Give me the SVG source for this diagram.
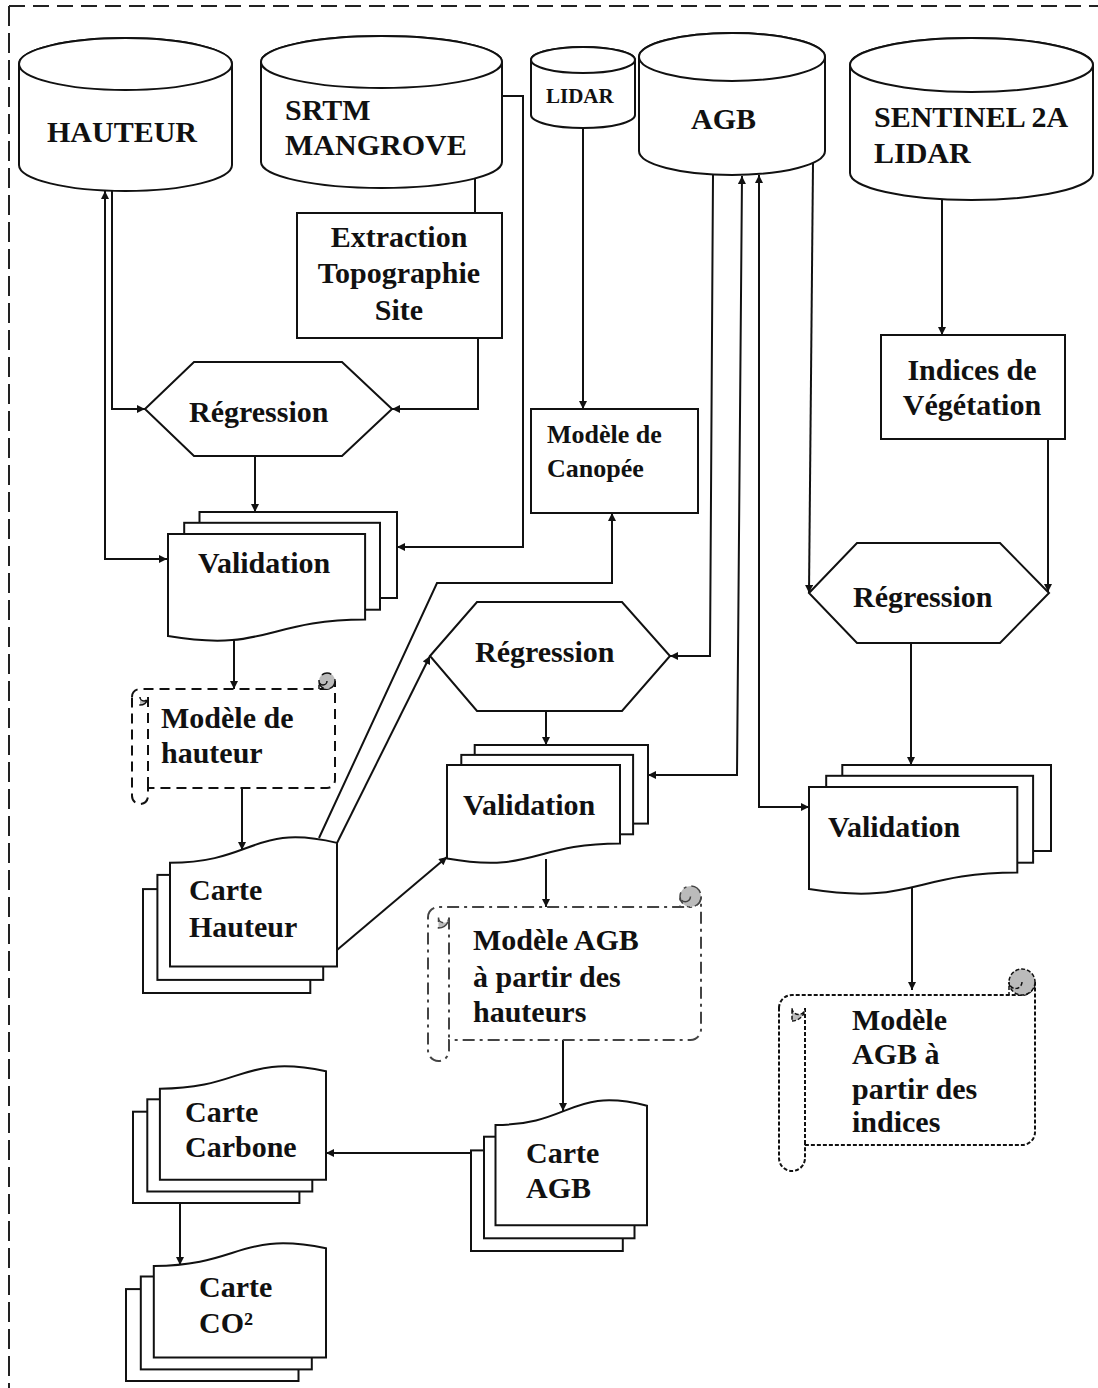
<svg xmlns="http://www.w3.org/2000/svg" width="1098" height="1388" viewBox="0 0 1098 1388">
<defs>
<style>
.s{fill:#fff;stroke:#111;stroke-width:2}
.t{font-family:"Liberation Serif","Times New Roman",serif;font-weight:bold;font-size:30px;fill:#111}
.c{fill:none;stroke:#111;stroke-width:2}
.curl{fill:#bbb;stroke:#111;stroke-width:1.5}
</style>
<marker id="arr" viewBox="0 0 10 10" refX="10" refY="5" markerWidth="10" markerHeight="8" markerUnits="userSpaceOnUse" orient="auto-start-reverse">
<path d="M0,0 L10,5 L0,10 Z" fill="#111"/>
</marker>
</defs>
<rect width="1098" height="1388" fill="#fff"/>
<g id="border">
<path d="M9,6 L1098,6" fill="none" stroke="#222" stroke-width="2" stroke-dasharray="16 8"/>
<path d="M9,6 L9,1388" fill="none" stroke="#222" stroke-width="2" stroke-dasharray="20 7"/>
</g>

<g id="connectors" class="c">
<path d="M105,191 L105,559 L167,559" marker-start="url(#arr)" marker-end="url(#arr)"/>
<path d="M112,191 L112,409 L145,409" marker-end="url(#arr)"/>
<path d="M475,178 L475,213"/>
<path d="M478,338 L478,409 L392,409" marker-end="url(#arr)"/>
<path d="M502,96 L523,96 L523,547 L397,547" marker-end="url(#arr)"/>
<path d="M255,456 L255,512" marker-end="url(#arr)"/>
<path d="M234,640 L234,689" marker-end="url(#arr)"/>
<path d="M242,788 L242,850" marker-end="url(#arr)"/>
<path d="M583,128 L583,409" marker-end="url(#arr)"/>
<path d="M319,838 L437,583 L612,583 L612,513" marker-end="url(#arr)"/>
<path d="M337,843 L430,656" marker-end="url(#arr)"/>
<path d="M337,950 L447,857" marker-end="url(#arr)"/>
<path d="M713,175 L710,656 L670,656" marker-end="url(#arr)"/>
<path d="M742,176 L737,775 L648,775" marker-start="url(#arr)" marker-end="url(#arr)"/>
<path d="M759,175 L759,807 L809,807" marker-start="url(#arr)" marker-end="url(#arr)"/>
<path d="M813,163 L809,593" marker-end="url(#arr)"/>
<path d="M942,199 L942,335" marker-end="url(#arr)"/>
<path d="M1048,439 L1048,592" marker-end="url(#arr)"/>
<path d="M546,711 L546,745" marker-end="url(#arr)"/>
<path d="M911,643 L911,765" marker-end="url(#arr)"/>
<path d="M546,859 L546,907" marker-end="url(#arr)"/>
<path d="M912,887 L912,990" marker-end="url(#arr)"/>
<path d="M563,1040 L563,1111" marker-end="url(#arr)"/>
<path d="M471,1153 L326,1153" marker-end="url(#arr)"/>
<path d="M180,1203 L180,1265" marker-end="url(#arr)"/>
</g>

<g id="hauteur-db">
<path class="s" d="M19,64 L19,165 A106.5,26 0 0 0 232,165 L232,64 A106.5,26 0 0 0 19,64 Z"/>
<ellipse class="s" cx="125.5" cy="64" rx="106.5" ry="26"/>
<text class="t" x="47" y="142">HAUTEUR</text>
</g>
<g id="srtm-db">
<path class="s" d="M261,62 L261,162 A120.5,26 0 0 0 502,162 L502,62 A120.5,26 0 0 0 261,62 Z"/>
<ellipse class="s" cx="381.5" cy="62" rx="120.5" ry="26"/>
<text class="t" x="285" y="120">SRTM</text>
<text class="t" x="285" y="155">MANGROVE</text>
</g>
<g id="lidar-db">
<path class="s" d="M531,60 L531,115 A52,13 0 0 0 635,115 L635,60 A52,13 0 0 0 531,60 Z"/>
<ellipse class="s" cx="583" cy="60" rx="52" ry="13"/>
<text class="t" x="546" y="103" style="font-size:21px">LIDAR</text>
</g>
<g id="agb-db">
<path class="s" d="M639,57 L639,151 A93,24 0 0 0 825,151 L825,57 A93,24 0 0 0 639,57 Z"/>
<ellipse class="s" cx="732" cy="57" rx="93" ry="24"/>
<text class="t" x="691" y="129">AGB</text>
</g>
<g id="sentinel-db">
<path class="s" d="M850,65 L850,173 A121.5,27 0 0 0 1093,173 L1093,65 A121.5,27 0 0 0 850,65 Z"/>
<ellipse class="s" cx="971.5" cy="65" rx="121.5" ry="27"/>
<text class="t" x="874" y="127">SENTINEL 2A</text>
<text class="t" x="874" y="163">LIDAR</text>
</g>

<g id="extraction">
<rect class="s" x="297" y="213" width="205" height="125"/>
<text class="t" x="399" y="247" text-anchor="middle">Extraction</text>
<text class="t" x="399" y="283" text-anchor="middle">Topographie</text>
<text class="t" x="399" y="320" text-anchor="middle">Site</text>
</g>
<g id="canopee">
<rect class="s" x="531" y="409" width="167" height="104"/>
<text class="t" x="547" y="443" style="font-size:26px">Modèle de</text>
<text class="t" x="547" y="477" style="font-size:26px">Canopée</text>
</g>
<g id="indices">
<rect class="s" x="881" y="335" width="184" height="104"/>
<text class="t" x="972" y="380" text-anchor="middle">Indices de</text>
<text class="t" x="972" y="415" text-anchor="middle">Végétation</text>
</g>

<g id="regression-a">
<polygon class="s" points="145,409 194,362 342,362 392,409 342,456 194,456"/>
<text class="t" x="189" y="422">Régression</text>
</g>
<g id="regression-b">
<polygon class="s" points="430,656 477,602 622,602 670,656 622,711 477,711"/>
<text class="t" x="475" y="662">Régression</text>
</g>
<g id="regression-c">
<polygon class="s" points="809,593 857,543 1000,543 1049,593 1000,643 857,643"/>
<text class="t" x="853" y="607">Régression</text>
</g>

<g id="validation-a">
<rect class="s" x="199.5" y="512" width="197.5" height="86"/>
<rect class="s" x="184.2" y="522.8" width="195.8" height="86.9"/>
<path class="s" d="M168,534 L365.1,534 L365.1,619.6 C266.6,619.6 266.6,652.6 168,636.1 Z"/>
<text class="t" x="198" y="573">Validation</text>
</g>
<g id="validation-b">
<rect class="s" x="474.7" y="745" width="173.3" height="78.6"/>
<rect class="s" x="461.3" y="754.9" width="171.8" height="79.4"/>
<path class="s" d="M447,765.1 L620,765.1 L620,843.5 C533.5,843.5 533.5,873.6 447,858.5 Z"/>
<text class="t" x="463" y="815">Validation</text>
</g>
<g id="validation-c">
<rect class="s" x="842.3" y="765" width="208.7" height="86"/>
<rect class="s" x="826.2" y="775.8" width="206.9" height="86.9"/>
<path class="s" d="M809,787 L1017.3,787 L1017.3,872.6 C913.2,872.6 913.2,905.6 809,889.1 Z"/>
<text class="t" x="828" y="837">Validation</text>
</g>

<g id="modele-hauteur" style="stroke-dasharray:10 6">
<path class="s" d="M132,697 A8,8 0 0 1 140,689 L327,689 A8,8 0 0 0 335,681 L335,780 A8,8 0 0 1 327,788 L148,788 L148,796 A8,8 0 0 1 132,796 Z"/>
<circle class="curl" cx="327" cy="681" r="8"/>
<path class="c" d="M327,681 A4,4 0 0 1 319,681 L319,689" style="stroke-width:1.5"/>
<path class="c" d="M148,697 L148,788"/>
<path class="curl" d="M140,705 A8,8 0 0 0 148,697 A4,4 0 0 1 140,697 Z"/>
<text class="t" x="161" y="728" style="stroke:none">Modèle de</text>
<text class="t" x="161" y="763" style="stroke:none">hauteur</text>
</g>

<g id="modele-agb-hauteurs" style="stroke-dasharray:12 5 3 5">
<path class="s" style="stroke:#444" d="M428,917.5 A10.5,10.5 0 0 1 438.5,907 L690.5,907 A10.5,10.5 0 0 0 701,896.5 L701,1029.5 A10.5,10.5 0 0 1 690.5,1040 L449,1040 L449,1050.5 A10.5,10.5 0 0 1 428,1050.5 Z"/>
<circle class="curl" style="stroke:#444" cx="690.5" cy="896.5" r="10.5"/>
<path class="c" style="stroke:#444;stroke-width:1.5" d="M690.5,896.5 A5.25,5.25 0 0 1 680,896.5 L680,907"/>
<path class="c" style="stroke:#444" d="M449,917.5 L449,1040"/>
<path class="curl" style="stroke:#444" d="M438.5,928 A10.5,10.5 0 0 0 449,917.5 A5.25,5.25 0 0 1 438.5,917.5 Z"/>
<text class="t" x="473" y="950" style="stroke:none">Modèle AGB</text>
<text class="t" x="473" y="987" style="stroke:none">à partir des</text>
<text class="t" x="473" y="1022" style="stroke:none">hauteurs</text>
</g>

<g id="modele-agb-indices" style="stroke-dasharray:4 2">
<path class="s" d="M779,1008 A13,13 0 0 1 792,995 L1022,995 A13,13 0 0 0 1035,982 L1035,1132 A13,13 0 0 1 1022,1145 L805,1145 L805,1158 A13,13 0 0 1 779,1158 Z"/>
<circle class="curl" cx="1022" cy="982" r="13"/>
<path class="c" style="stroke-width:1.5" d="M1022,982 A6.5,6.5 0 0 1 1009,982 L1009,995"/>
<path class="c" d="M805,1008 L805,1145"/>
<path class="curl" d="M792,1021 A13,13 0 0 0 805,1008 A6.5,6.5 0 0 1 792,1008 Z"/>
<text class="t" x="852" y="1030" style="stroke:none">Modèle</text>
<text class="t" x="852" y="1064" style="stroke:none">AGB à</text>
<text class="t" x="852" y="1099" style="stroke:none">partir des</text>
<text class="t" x="852" y="1132" style="stroke:none">indices</text>
</g>

<g id="carte-hauteur">
<rect class="s" x="143" y="889.1" width="167.3" height="103.9"/>
<rect class="s" x="157.4" y="874.9" width="165.8" height="105"/>
<path class="s" d="M337,966.5 L170,966.5 L170,862.8 C253.5,862.8 253.5,823 337,842.9 Z"/>
<text class="t" x="189" y="900">Carte</text>
<text class="t" x="189" y="937">Hauteur</text>
</g>
<g id="carte-agb">
<rect class="s" x="471" y="1150.4" width="151.8" height="100.6"/>
<rect class="s" x="484" y="1136.7" width="150.5" height="101.6"/>
<path class="s" d="M647,1225.3 L495.5,1225.3 L495.5,1125 C571.2,1125 571.2,1086.4 647,1105.7 Z"/>
<text class="t" x="526" y="1163">Carte</text>
<text class="t" x="526" y="1198">AGB</text>
</g>
<g id="carte-carbone">
<rect class="s" x="133" y="1111.7" width="166.4" height="91.3"/>
<rect class="s" x="147.3" y="1099.3" width="165" height="92.2"/>
<path class="s" d="M326,1179.7 L159.9,1179.7 L159.9,1088.7 C242.9,1088.7 242.9,1053.7 326,1071.2 Z"/>
<text class="t" x="185" y="1122">Carte</text>
<text class="t" x="185" y="1157">Carbone</text>
</g>
<g id="carte-co2">
<rect class="s" x="126" y="1289.1" width="172.5" height="91.9"/>
<rect class="s" x="140.8" y="1276.5" width="171" height="92.9"/>
<path class="s" d="M326,1357.5 L153.8,1357.5 L153.8,1265.9 C239.9,1265.9 239.9,1230.6 326,1248.2 Z"/>
<text class="t" x="199" y="1297">Carte</text>
<text class="t" x="199" y="1333">CO²</text>
</g>
</svg>
